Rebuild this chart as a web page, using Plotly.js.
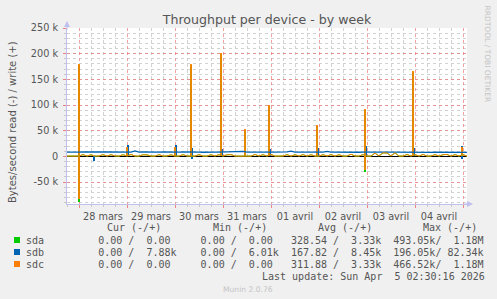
<!DOCTYPE html>
<html><head><meta charset="utf-8">
<script src="https://cdn.plot.ly/plotly-3.0.1.min.js"></script>
<style>html,body{margin:0;padding:0;background:#f0f0f0;}#chart{width:497px;height:299px;}</style>
</head><body><div id="chart"></div>
<script>
// ---------- data ----------
const series_names = ['sda', 'sdb', 'sdc'];
const series_colors = ['#00cc00', '#0066b3', '#ff8000'];
const month_labels = ['janv.', 'févr.', 'mars', 'avril', 'mai', 'juin', 'juil.', 'août', 'sept.', 'oct.', 'nov.', 'déc.'];
const y_tick_vals = [-50000, 0, 50000, 100000, 150000, 200000, 250000];
const y_tick_text = ['-50 k', '0', '50 k', '100 k', '150 k', '200 k', '250 k'];

// baseline samples every 2 hours starting at 27 mars 18:00
const base_start = '2026-03-27 18:00';
const sdb_write = [
  8300, 8000, 8400, 8200, 8600, 8300, 8700, 8400, 8800, 8500,
  8700, 8900, 8600, 8800, 8500, 8700, 8400, 10800, 8300, 8500,
  8100, 8400, 8000, 8300, 8600, 8200, 8400, 8000, 8300, 8500,
  8100, 8200, 8600, 8300, 8000, 8400, 8700, 8200, 8100, 8300,
  8500, 8000, 8300, 8600, 9600, 8200, 8000, 8400, 8100, 8300,
  8500, 8100, 8300, 8000, 8400, 8600, 10200, 8300, 8100, 8400,
  8200, 8000, 8500, 8300, 8100, 9700, 8400, 8200, 8000, 8300,
  8100, 8400, 8200, 8000, 8300, 8100, 8500, 8200, 8000, 8300,
  8100, 8400, 8200, 8000, 8300, 8100, 7900, 8200, 8000, 7800,
  8100, 7900, 8200, 8000, 7800, 8100, 7900, 8000, 7800, 8000,
  7900
];
const sdc_write = [
  600, 500, 700, 600, 3300, 600, 3000, 500, 700, 3400,
  600, 3100, 800, 500, 3200, 700, 3600, 600, 500, 3100,
  2800, 600, 500, 3300, 600, 700, 3000, 500, 600, 3200,
  700, 600, 500, 3400, 600, 500, 3100, 700, 3300, 600,
  3000, 3400, 600, 500, 700, 600, 500, 3600, 700, 3200,
  600, 3700, 500, 600, 700, 3300, 600, 3000, 700, 3400,
  500, 3100, 600, 500, 3200, 700, 3400, 600, 3100, 500,
  600, 4000, 700, 600, 3300, 500, 600, 6300, 700, 6800,
  6600, 600, 7000, 500, 600, 3600, 700, 3300, 600, 3700,
  500, 700, 3400, 600, 3200, 3600, 500, 3300, 600, 3500,
  300
];
const sda_write = [
  600, 500, 700, 600, 3300, 600, 3000, 500, 700, 3400,
  600, 3100, 800, 500, 3200, 700, 3600, 600, 500, 3100,
  2800, 600, 500, 3300, 600, 700, 3000, 500, 600, 3200,
  700, 600, 500, 3400, 600, 500, 3100, 700, 3300, 600,
  3000, 3400, 600, 500, 700, 600, 500, 3600, 700, 3200,
  600, 3700, 500, 600, 700, 3300, 600, 3000, 700, 3400,
  500, 3100, 600, 500, 3200, 700, 3400, 600, 3100, 500,
  600, 4000, 700, 600, 3300, 500, 600, 6300, 700, 6800,
  6600, 600, 7000, 500, 600, 3600, 700, 3300, 600, 3700,
  500, 700, 3400, 600, 3200, 3600, 500, 3300, 600, 3500,
  300
];

// short bursts (30-min samples)
const spike_times = ['2026-03-28 00:00', '2026-03-29 00:00', '2026-03-30 00:00', '2026-03-30 08:00',
  '2026-03-30 23:00', '2026-03-31 11:00', '2026-03-31 23:00', '2026-04-01 23:00',
  '2026-04-02 23:00', '2026-04-03 23:00', '2026-04-04 23:30'];
const sda_spike_write = [178000, 17000, 17000, 178000, 200000, 52000, 99000, 59000, 90000, 165000, 17000];
const sdc_spike_write = [180000, 19000, 19000, 180000, 202000, 53000, 101000, 61000, 92000, 167000, 19000];

const sdb_spike_times = ['2026-03-28 00:00', '2026-03-29 00:30', '2026-03-30 00:30', '2026-03-30 08:30',
  '2026-03-30 23:30', '2026-03-31 23:30', '2026-04-01 23:30', '2026-04-02 23:30',
  '2026-04-03 23:30', '2026-04-04 23:30'];
const sdb_spike_write = [21000, 22000, 22000, 16000, 14000, 15000, 17000, 20000, 16000, 21000];

const read_times = ['2026-03-28 00:00', '2026-04-02 23:00'];
const sda_read = [-89000, -30000];
const sdc_read = [-84000, -26000];
const sdb_read_times = ['2026-03-28 07:30', '2026-03-30 08:30', '2026-04-04 23:30'];
const sdb_read = [-9000, -5000, -5000];

const stat_headers = ['Cur (-/+)', 'Min (-/+)', 'Avg (-/+)', 'Max (-/+)'];
const stat_rows = [
  ['  0.00 /  0.00 ', '  0.00 /  0.00 ', '328.54 /  3.33k', '493.05k/  1.18M'],
  ['  0.00 /  7.88k', '  0.00 /  6.01k', '167.82 /  8.45k', '196.05k/ 82.34k'],
  ['  0.00 /  0.00 ', '  0.00 /  0.00 ', '311.88 /  3.33k', '466.52k/  1.18M']
];
const last_update = 'Last update: Sun Apr  5 02:30:16 2026';

// ---------- layout helpers ----------
const X_RANGE = ['2026-03-27 18:00', '2026-04-05 02:00'];
const Y_RANGE = [-92800, 250000];
const L = 67, R = 467, T = 28, B = 204, W = 497, H = 299;
const HOUR = 3600000;
const px2x = p => (p - L) / (R - L);
const px2y = p => (B - p) / (B - T);
const nb = s => s.replace(/ /g, '\u00a0');

Plotly.register({
  moduleType: 'locale', name: 'fr', dictionary: {},
  format: {
    days: ['dimanche', 'lundi', 'mardi', 'mercredi', 'jeudi', 'vendredi', 'samedi'],
    shortDays: ['dim.', 'lun.', 'mar.', 'mer.', 'jeu.', 'ven.', 'sam.'],
    months: ['janvier', 'février', 'mars', 'avril', 'mai', 'juin', 'juillet', 'août', 'septembre', 'octobre', 'novembre', 'décembre'],
    shortMonths: month_labels,
    date: '%d/%m/%Y'
  }
});

const bar = (x, y, color, extra) => Object.assign({
  type: 'bar', x: x, y: y, width: 0.8 * HOUR, marker: {color: color, line: {width: 0}},
  hoverinfo: 'skip', showlegend: false
}, extra || {});
const line = (y, color, w) => ({
  type: 'scatter', mode: 'lines', x0: base_start, dx: 2 * HOUR, y: y,
  line: {color: color, width: w, shape: 'linear'}, hoverinfo: 'skip', showlegend: false
});

const traces = [
  bar(sdb_spike_times, sdb_spike_write, series_colors[1]),
  bar(sdb_read_times, sdb_read, series_colors[1]),
  bar(spike_times, sda_spike_write, series_colors[0], {width: 1.1 * HOUR}),
  bar(read_times, sda_read, series_colors[0], {width: 1.1 * HOUR}),
  bar(spike_times, sdc_spike_write, series_colors[2], {width: 1.1 * HOUR, opacity: 0.9}),
  bar(read_times, sdc_read, series_colors[2], {width: 1.1 * HOUR, opacity: 0.9}),
  line(sda_write, series_colors[0], 1),
  line(sdb_write, series_colors[1], 1.3),
  line(sdc_write, series_colors[2], 1)
];

const monoFont = {family: 'DejaVu Sans Mono', size: 10, color: '#555'};
const annotations = [];
const ann = (o) => annotations.push(Object.assign({xref: 'paper', yref: 'paper', showarrow: false, borderpad: 0, borderwidth: 0}, o));

ann({text: 'Bytes/second read (-) / write (+)', x: px2x(12), y: px2y(122), textangle: -90,
  xanchor: 'center', yanchor: 'middle', font: {family: 'DejaVu Sans', size: 10, color: '#555'}});
ann({text: 'RRDTOOL / TOBI OETIKER', x: px2x(487.5), y: px2y(54), textangle: 90,
  xanchor: 'center', yanchor: 'middle', font: {family: 'DejaVu Sans', size: 7.5, color: '#c4c4c4'}});
const headerX = [107.3, 212.7, 318.3, 423];
stat_headers.forEach((h, i) => ann({text: nb(h), x: px2x(headerX[i]), y: px2y(227), xanchor: 'left', yanchor: 'middle', font: monoFont}));
const rowY = [240, 252, 264];
stat_rows.forEach((r, i) => ann({text: nb(series_names[i].padEnd(10) + r.join('  ')), x: px2x(26.3), y: px2y(rowY[i]),
  xanchor: 'left', yanchor: 'middle', font: monoFont}));
ann({text: nb(last_update), x: px2x(261.7), y: px2y(276), xanchor: 'left', yanchor: 'middle', font: monoFont});
ann({text: 'Munin 2.0.76', x: px2x(248.3), y: px2y(289), xanchor: 'center', yanchor: 'middle',
  font: {family: 'DejaVu Sans', size: 7.6, color: '#c4c4c4'}});
// axis arrows
ann({text: '', x: 0, y: px2y(21), showarrow: true, ax: 0, ay: 9, arrowhead: 2, arrowsize: 1.2, arrowwidth: 1, arrowcolor: '#c0c0ee', standoff: 0});
ann({text: '', x: px2x(473), y: 0, showarrow: true, ax: -9, ay: 0, arrowhead: 2, arrowsize: 1.2, arrowwidth: 1, arrowcolor: '#c0c0ee', standoff: 0});

const shapes = series_colors.map((c, i) => ({
  type: 'rect', xref: 'paper', yref: 'paper', x0: px2x(14), x1: px2x(20),
  y0: px2y(rowY[i] - 3), y1: px2y(rowY[i] + 3), fillcolor: c, line: {width: 0}, layer: 'above'
}));

const layout = {
  width: W, height: H,
  margin: {l: L, r: W - R, t: T, b: H - B, pad: 0},
  paper_bgcolor: '#f0f0f0', plot_bgcolor: '#ffffff',
  barmode: 'overlay', bargap: 0,
  showlegend: false,
  title: {text: 'Throughput per device - by week', x: 248.5 / W, xanchor: 'center', xref: 'paper',
    y: 1 - 19.5 / H, yanchor: 'middle', font: {family: 'DejaVu Sans', size: 12.6, color: '#555'}},
  xaxis: {
    type: 'date', range: X_RANGE, tick0: '2026-03-28', dtick: 86400000,
    ticklabelmode: 'period', tickformat: '%d %b',
    tickfont: {family: 'DejaVu Sans', size: 9.7, color: '#555'},
    showgrid: true, gridcolor: 'rgba(235,120,120,0.7)', griddash: 'dot', gridwidth: 1,
    ticks: 'outside', ticklen: 3, tickcolor: 'rgba(235,120,120,0.9)',
    showline: true, linecolor: '#c0c0ee', linewidth: 1, zeroline: false,
    minor: {tickmode: 'linear', tick0: '2026-03-28', dtick: 6 * HOUR, showgrid: true, gridcolor: '#d2d2d2',
      griddash: 'dot', gridwidth: 1, ticks: 'outside', ticklen: 2, tickcolor: '#c8c8c8'},
    fixedrange: true
  },
  yaxis: {
    range: Y_RANGE, tickmode: 'array', tickvals: y_tick_vals, ticktext: y_tick_text,
    tickfont: {family: 'DejaVu Sans', size: 9.7, color: '#555'},
    showgrid: true, gridcolor: 'rgba(235,120,120,0.7)', griddash: 'dot', gridwidth: 1,
    ticks: 'outside', ticklen: 3, tickcolor: 'rgba(235,120,120,0.9)', ticklabelstandoff: 3,
    zeroline: true, zerolinecolor: '#000000', zerolinewidth: 1.3,
    showline: true, linecolor: '#c0c0ee', linewidth: 1,
    minor: {tickmode: 'linear', tick0: 0, dtick: 10000, showgrid: true, gridcolor: '#d2d2d2',
      griddash: 'dot', gridwidth: 1, ticks: 'outside', ticklen: 2, tickcolor: '#c8c8c8'},
    fixedrange: true
  },
  annotations: annotations,
  shapes: shapes
};

Plotly.newPlot('chart', traces, layout, {locale: 'fr', staticPlot: true, displayModeBar: false});
</script></body></html>
